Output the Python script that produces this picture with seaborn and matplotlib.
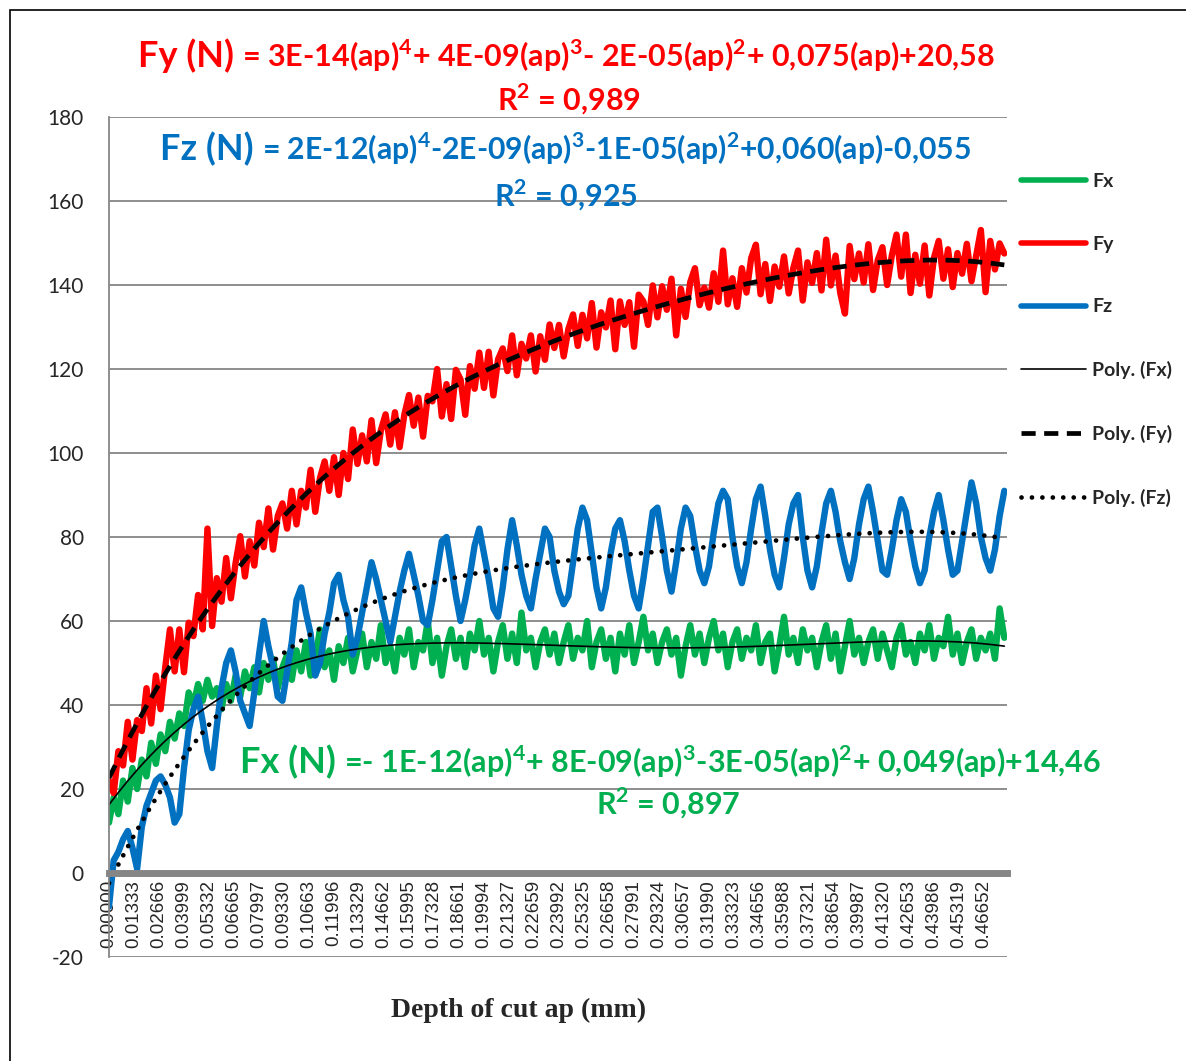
import numpy as np
import pandas as pd
import matplotlib
matplotlib.use("Agg")
import matplotlib.pyplot as plt
import seaborn as sns
from matplotlib.lines import Line2D
from matplotlib.patches import Rectangle

# sampling step of depth of cut (mm)
ap_step = 0.0025

fx = [12, 18, 14, 22, 17, 25, 20, 27, 23, 31,
      26, 33, 29, 36, 32, 38, 35, 43, 40, 45,
      41, 46, 42, 44, 39, 45, 41, 47, 42, 48,
      44, 49, 43, 50, 46, 51, 44, 49, 52, 46,
      53, 48, 55, 47, 51, 58, 49, 53, 46, 54,
      50, 56, 48, 53, 57, 49, 55, 51, 59, 50,
      54, 48, 56, 52, 58, 49, 55, 53, 60, 50,
      56, 47, 54, 58, 51, 56, 49, 57, 53, 60,
      52, 56, 48, 55, 59, 51, 57, 50, 62, 53,
      56, 49, 55, 58, 52, 57, 50, 55, 59, 51,
      56, 53, 60, 49, 55, 58, 51, 56, 48, 57,
      52, 59, 50, 55, 61, 53, 57, 50, 55, 58,
      52, 56, 47, 54, 59, 52, 57, 50, 56, 60,
      53, 57, 49, 55, 58, 51, 56, 53, 59, 50,
      55, 57, 48, 54, 61, 52, 56, 50, 58, 53,
      56, 49, 55, 59, 51, 57, 48, 54, 60, 52,
      56, 50, 55, 58, 51, 57, 53, 49, 56, 59,
      52, 55, 50, 57, 53, 59, 51, 56, 54, 61,
      52, 57, 50, 55, 58, 51, 56, 53, 57, 51, 63, 56]

fy = [22, 19, 29, 25.6, 36, 27, 36.4, 33.8, 44, 35.6,
      47, 39, 49, 58, 48, 58, 47.8, 59.6, 56.4, 66.2,
      58, 82, 58.8, 70.2, 64.6, 75, 65.4, 73.8, 80.2, 70.6,
      79, 73.2, 83.4, 77.6, 86.8, 77, 85, 88, 82, 91,
      83, 91, 87, 96, 86, 94, 98, 91, 99, 90,
      100, 93.8, 105.6, 97.4, 104.2, 98, 107.8, 97.6, 105.4, 109.2,
      102, 109.7, 101.4, 109.1, 113.8, 106.5, 113.2, 103.9, 113.6, 112.3,
      120, 108.7, 116.4, 108.1, 119.8, 117.5, 109.1, 120.7, 115.3, 123.9,
      115.5, 124.1, 113.7, 122.3, 124.9, 119.5, 128, 118.5, 126, 122.5,
      128, 119.4, 127.8, 122.2, 130.6, 125, 130.5, 123, 129.5, 133,
      125.5, 132.9, 127.3, 135.7, 125.1, 133.5, 129.9, 136.3, 124.7, 136.1,
      130.5, 135.9, 125.3, 137.7, 136.1, 130.5, 139.9, 132.3, 139.7, 134.1,
      141.5, 128, 139.1, 132.4, 140.7, 144, 135.2, 139.4, 134.6, 142.8,
      136, 148.2, 135.4, 141.6, 134.8, 144, 138.2, 146.4, 149.6, 137.8,
      145, 136.2, 144.4, 139.6, 146.8, 138, 144.1, 148.2, 136.3, 145.4,
      140.5, 147.6, 138.7, 150.8, 139.9, 147, 138.1, 133.2, 149.3, 141.4,
      147.5, 140.6, 149.7, 138.8, 145.9, 149, 140, 147, 152, 142,
      152, 138.1, 147.2, 140.3, 149.4, 137.5, 146.5, 150.5, 141.5, 148.5,
      139.5, 147.6, 142.7, 149.8, 140.9, 147, 153.1, 138.3, 150.5, 143.7, 149.9, 147.5]

fz = [-8, 3, 5, 8, 10, 6, 1, 11, 16, 19,
      22, 23, 21, 18, 12, 14, 25, 34, 39, 42,
      36, 29, 25, 35, 44, 50, 53, 48, 41, 38,
      35, 43, 52, 60, 54, 49, 42, 41, 48, 55,
      65, 68, 62, 57, 47, 50, 57, 62, 69, 71,
      65, 61, 52, 56, 62, 68, 74, 70, 65, 60,
      55, 61, 67, 72, 76, 71, 66, 60, 59, 65,
      72, 79, 80, 73, 66, 60, 65, 71, 78, 82,
      76, 70, 63, 61, 68, 77, 84, 78, 71, 66,
      63, 70, 76, 82, 80, 72, 67, 64, 66, 74,
      82, 87, 84, 76, 68, 63, 68, 76, 82, 84,
      79, 72, 66, 63, 70, 78, 86, 87, 80, 72,
      67, 74, 82, 87, 85, 78, 72, 69, 73, 81,
      88, 91, 89, 80, 73, 69, 74, 82, 89, 92,
      85, 77, 71, 68, 75, 83, 88, 90, 80, 72,
      68, 73, 81, 88, 91, 86, 79, 74, 70, 75,
      83, 89, 92, 86, 79, 72, 71, 77, 84, 89,
      86, 79, 73, 69, 72, 80, 86, 90, 84, 77,
      71, 72, 79, 86, 93, 88, 80, 75, 72, 77, 85, 91]

tick_labels = ["0.00000", "0.01333", "0.02666", "0.03999", "0.05332", "0.06665",
               "0.07997", "0.09330", "0.10663", "0.11996", "0.13329", "0.14662",
               "0.15995", "0.17328", "0.18661", "0.19994", "0.21327", "0.22659",
               "0.23992", "0.25325", "0.26658", "0.27991", "0.29324", "0.30657",
               "0.31990", "0.33323", "0.34656", "0.35988", "0.37321", "0.38654",
               "0.39987", "0.41320", "0.42653", "0.43986", "0.45319", "0.46652"]
y_ticks = [-20, 0, 20, 40, 60, 80, 100, 120, 140, 160, 180]

GREEN = "#00B050"
RED = "#FF0000"
BLUE = "#0070C0"
GRID = "#868686"

df = pd.DataFrame({"ap": np.arange(len(fx)) * ap_step, "Fx": fx, "Fy": fy, "Fz": fz})
for name in ["Fx", "Fy", "Fz"]:
    coef = np.polyfit(df["ap"], df[name], 4)
    df["poly_" + name] = np.polyval(coef, df["ap"])

sns.set_style("white")
plt.rcParams["font.family"] = ["Lato", "DejaVu Sans"]
plt.rcParams["mathtext.fontset"] = "custom"
plt.rcParams["mathtext.rm"] = "Lato"
plt.rcParams["mathtext.bf"] = "Lato:bold"
plt.rcParams["axes.unicode_minus"] = False

W, H = 1186, 1061
fig = plt.figure(figsize=(W / 100, H / 100), dpi=100)
ax = fig.add_axes([109 / W, 1 - 957 / H, 898 / W, 840 / H])

for name, color in [("Fx", GREEN), ("Fy", RED), ("Fz", BLUE)]:
    sns.lineplot(data=df, x="ap", y=name, color=color, linewidth=4.6,
                 estimator=None, sort=False, ax=ax, legend=False)

sns.lineplot(data=df, x="ap", y="poly_Fx", color="black", linewidth=1.2,
             estimator=None, ax=ax, legend=False)
sns.lineplot(data=df, x="ap", y="poly_Fy", color="black", linewidth=3.4,
             linestyle=(0, (3.0, 1.8)), estimator=None, ax=ax, legend=False)
sns.lineplot(data=df, x="ap", y="poly_Fz", color="black", linewidth=3.4,
             linestyle=(0, (0.01, 2.2)), dash_capstyle="round",
             estimator=None, ax=ax, legend=False)

# axis lines first: moving a spine resets the tick labels
for s in ["top", "right"]:
    ax.spines[s].set_visible(False)
ax.spines["left"].set_color(GRID)
ax.spines["left"].set_linewidth(1.3)
ax.spines["bottom"].set_position(("data", 0))
ax.spines["bottom"].set_color(GRID)
ax.spines["bottom"].set_linewidth(5)

ax.set_xlim(0, 898 / 1875)
ax.set_ylim(-20, 180)
ax.set_yticks(y_ticks)
ax.set_xticks([float(t) for t in tick_labels])
ax.set_xticklabels(tick_labels, rotation=90, fontsize=13.5, family=["Liberation Sans"],
                   va="top", ha="center")
ax.set_xlabel("")
ax.set_ylabel("")
ax.yaxis.grid(True, color=GRID, linewidth=1.3)
ax.set_axisbelow(True)
ax.tick_params(axis="x", length=0, pad=5, labelrotation=90)
ax.tick_params(axis="y", length=7, width=1.2, color=GRID, labelsize=15, pad=11)

fig.text(519 / W, 1 - 1010 / H, "Depth of cut ap (mm)", family=["Liberation Serif"],
         fontweight="bold", fontsize=20, ha="center", va="center")

# equations of the trend lines
def equation(x_px, y_px, head, tail, color, head_size, tail_size):
    t = fig.text(x_px / W, 1 - y_px / H, head, color=color, fontsize=head_size,
                 fontweight="bold", ha="left", va="baseline")
    fig.canvas.draw()
    bb = t.get_window_extent()
    fig.text((bb.x1 + 8) / W, 1 - y_px / H, tail, color=color, fontsize=tail_size,
             fontweight="bold", ha="left", va="baseline")

equation(138, 67, "Fy (N)",
         r"= 3E-14(ap)$^{\mathbf{4}}$+ 4E-09(ap)$^{\mathbf{3}}$- 2E-05(ap)$^{\mathbf{2}}$+ 0,075(ap)+20,58",
         RED, 26, 22)
equation(160, 160, "Fz (N)",
         r"= 2E-12(ap)$^{\mathbf{4}}$-2E-09(ap)$^{\mathbf{3}}$-1E-05(ap)$^{\mathbf{2}}$+0,060(ap)-0,055",
         BLUE, 26, 21.7)
equation(240, 773, "Fx (N)",
         r"=- 1E-12(ap)$^{\mathbf{4}}$+ 8E-09(ap)$^{\mathbf{3}}$-3E-05(ap)$^{\mathbf{2}}$+ 0,049(ap)+14,46",
         GREEN, 26, 22)
for x_px, y_px, txt, color in [(569, 111, r"R$^{\mathbf{2}}$ = 0,989", RED),
                               (566, 207, r"R$^{\mathbf{2}}$ = 0,925", BLUE),
                               (668, 815, r"R$^{\mathbf{2}}$ = 0,897", GREEN)]:
    fig.text(x_px / W, 1 - y_px / H, txt, color=color, fontsize=22,
             fontweight="bold", ha="center", va="baseline")

handles = [Line2D([], [], color=GREEN, lw=4, solid_capstyle="round"),
           Line2D([], [], color=RED, lw=4, solid_capstyle="round"),
           Line2D([], [], color=BLUE, lw=4, solid_capstyle="round"),
           Line2D([], [], color="black", lw=1.2),
           Line2D([], [], color="black", lw=3.4, linestyle=(0, (3.0, 1.8))),
           Line2D([], [], color="black", lw=3.4, linestyle=(0, (0.01, 2.2)),
                  dash_capstyle="round")]
labels = ["Fx", "Fy", "Fz", "Poly. (Fx)", "Poly. (Fy)", "Poly. (Fz)"]
fig.legend(handles, labels, loc="upper left", bbox_to_anchor=(1021 / W, 1 - 173 / H),
           frameon=False, prop={"family": "Lato", "weight": "bold", "size": 14},
           handlelength=3.35, handletextpad=0.3, labelspacing=2.35,
           borderpad=0, borderaxespad=0)

fig.add_artist(Rectangle((10 / W, -0.05), 1.2, 1.05 - 10 / H, transform=fig.transFigure,
                         fill=False, edgecolor="black", linewidth=1.2))

fig.savefig("out.png", dpi=100)
